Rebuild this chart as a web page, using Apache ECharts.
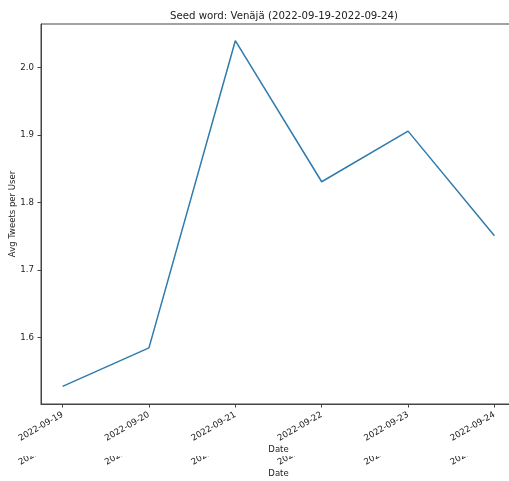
<!DOCTYPE html>
<html>
<head>
<meta charset="utf-8">
<script src="https://cdn.jsdelivr.net/npm/echarts@6/dist/echarts.min.js"></script>
<style>html,body{margin:0;padding:0;background:#fff}#c{width:509px;height:481px}</style>
</head>
<body>
<div id="c"></div>
<script>
const categories = ['2022-09-19','2022-09-20','2022-09-21','2022-09-22','2022-09-23','2022-09-24'];
const avgTweets = [1.528, 1.585, 2.040, 1.831, 1.906, 1.751];
const yTicks = [1.6, 1.7, 1.8, 1.9, 2.0];
const xTicks = [0, 1, 2, 3, 4, 5];

const font = 'DejaVu Sans';
const axisCol = '#444';
const chart = echarts.init(document.getElementById('c'), null, {renderer: 'canvas'});

function xAxisDef(offset, z) {
  return {
    type: 'value', min: -0.25, max: 5.25, offset: offset, z: z,
    position: 'bottom',
    name: 'Date', nameLocation: 'middle', nameGap: 41, nameMoveOverlap: false,
    nameTextStyle: {fontFamily: font, fontSize: 8.5, color: '#222'},
    axisLine: {show: offset === 0, onZero: false, lineStyle: {color: axisCol, width: 1}},
    axisTick: {show: offset === 0, customValues: xTicks, length: 3.5, lineStyle: {color: axisCol}},
    axisLabel: {customValues: xTicks, rotate: 30, margin: 10, fontFamily: font, fontSize: 8.6, color: '#222',
      formatter: v => categories[Math.round(v)]},
    splitLine: {show: false}
  };
}

chart.setOption({
  animation: false,
  backgroundColor: '#fff',
  title: {text: 'Seed word: Venäjä (2022-09-19-2022-09-24)', left: 279, top: 6, textAlign: 'center',
    textStyle: {fontFamily: font, fontSize: 10.2, fontWeight: 'normal', color: '#222'}},
  grid: {left: 41, top: 24, width: 475, bottom: 77, show: true, outerBoundsMode: 'none', containLabel: false,
    borderColor: axisCol, borderWidth: 1, backgroundColor: 'transparent'},
  xAxis: [xAxisDef(0, 10), xAxisDef(24, 1)],
  yAxis: {
    type: 'value', min: 1.5018, max: 2.0647,
    name: 'Avg Tweets per User', nameLocation: 'middle', nameGap: 24, nameMoveOverlap: false,
    nameTextStyle: {fontFamily: font, fontSize: 8.5, color: '#222'},
    axisLine: {show: true, onZero: false, lineStyle: {color: axisCol}},
    axisTick: {show: true, customValues: yTicks, length: 3.5, lineStyle: {color: axisCol}},
    axisLabel: {customValues: yTicks, margin: 7, fontFamily: font, fontSize: 8.6, color: '#222',
      formatter: v => v.toFixed(1)},
    splitLine: {show: false}
  },
  graphic: {
    elements: [{type: 'rect', z: 5, zlevel: 0, silent: true,
      shape: {x: 0, y: 406, width: 509, height: 50}, style: {fill: '#fff'}}]
  },
  series: [{
    type: 'line', xAxisIndex: 0,
    data: avgTweets.map((v, i) => [i, v]),
    showSymbol: false, symbol: 'none',
    lineStyle: {color: '#2f7bad', width: 1.5},
    z: 3
  }]
});
</script>
</body>
</html>
